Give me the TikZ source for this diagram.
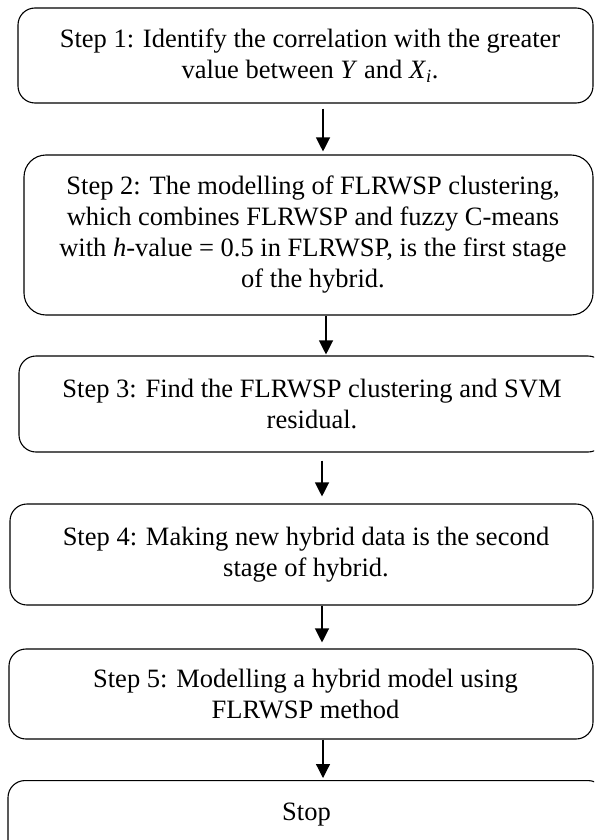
\documentclass[tikz,border=0pt]{standalone}
\usepackage{fontspec}
\setmainfont{Liberation Serif}
\usetikzlibrary{arrows.meta,calc}
\newcommand{\shr}{\hspace*{9pt}}
\tikzset{
  stepbox/.style={draw=black, line width=1.1pt, rounded corners=17pt, align=center,
    font=\fontsize{26.5}{31}\selectfont, inner sep=0pt},
  arr/.style={line width=1.2pt, -{Triangle[width=14pt,length=14pt]}}
}
\begin{document}
\begin{tikzpicture}[x=1pt,y=-1pt]
\useasboundingbox (0,0) rectangle (594,840);
\clip (0,0) rectangle (594,840);
\node[stepbox, minimum width=575pt, minimum height=95pt] (b1) at (305.5,55.5)
  {\shr Step 1: Identify the correlation with the greater\\\shr value between \textit{Y} and \textit{X}\textsubscript{\textit{i}}.};
\node[stepbox, rounded corners=22pt, minimum width=569pt, minimum height=160pt] (b2) at (308.5,235)
  {\shr Step 2: The modelling of FLRWSP clustering,\\\shr which combines FLRWSP and fuzzy C-means\\\shr with \textit{h}-value = 0.5 in FLRWSP, is the first stage\\\shr of the hybrid.};
\node[stepbox, minimum width=586pt, minimum height=96pt] (b3) at (312,404)
  {Step 3: Find the FLRWSP clustering and SVM\\residual.};
\node[stepbox, minimum width=583pt, minimum height=101pt] (b4) at (301.5,554.5)
  {\shr Step 4: Making new hybrid data is the second\\\shr stage of hybrid.};
\node[stepbox, minimum width=584pt, minimum height=90pt] (b5) at (301,694)
  {\shr Step 5: Modelling a hybrid model using\\\shr FLRWSP method};
\node[stepbox, anchor=north, minimum width=597pt, minimum height=80pt, text height=18pt, text depth=18pt] (b6) at (306.5,780)
  {Stop};
\coordinate (x1) at (323,0);
\coordinate (x2) at (326,0);
\coordinate (x3) at (322,0);
\draw[arr] ($(b1.south -| x1)+(0,5)$) -- ($(b2.north -| x1)+(0,-3)$);
\draw[arr] (b2.south -| x2) -- ($(b3.north -| x2)+(0,-1)$);
\draw[arr] ($(b3.south -| x3)+(0,8)$) -- ($(b4.north -| x3)+(0,-7)$);
\draw[arr] (b4.south -| x3) -- ($(b5.north -| x3)+(0,-6)$);
\draw[arr] (b5.south -| x1) -- ($(b6.north -| x1)+(0,-2)$);
\end{tikzpicture}
\end{document}
